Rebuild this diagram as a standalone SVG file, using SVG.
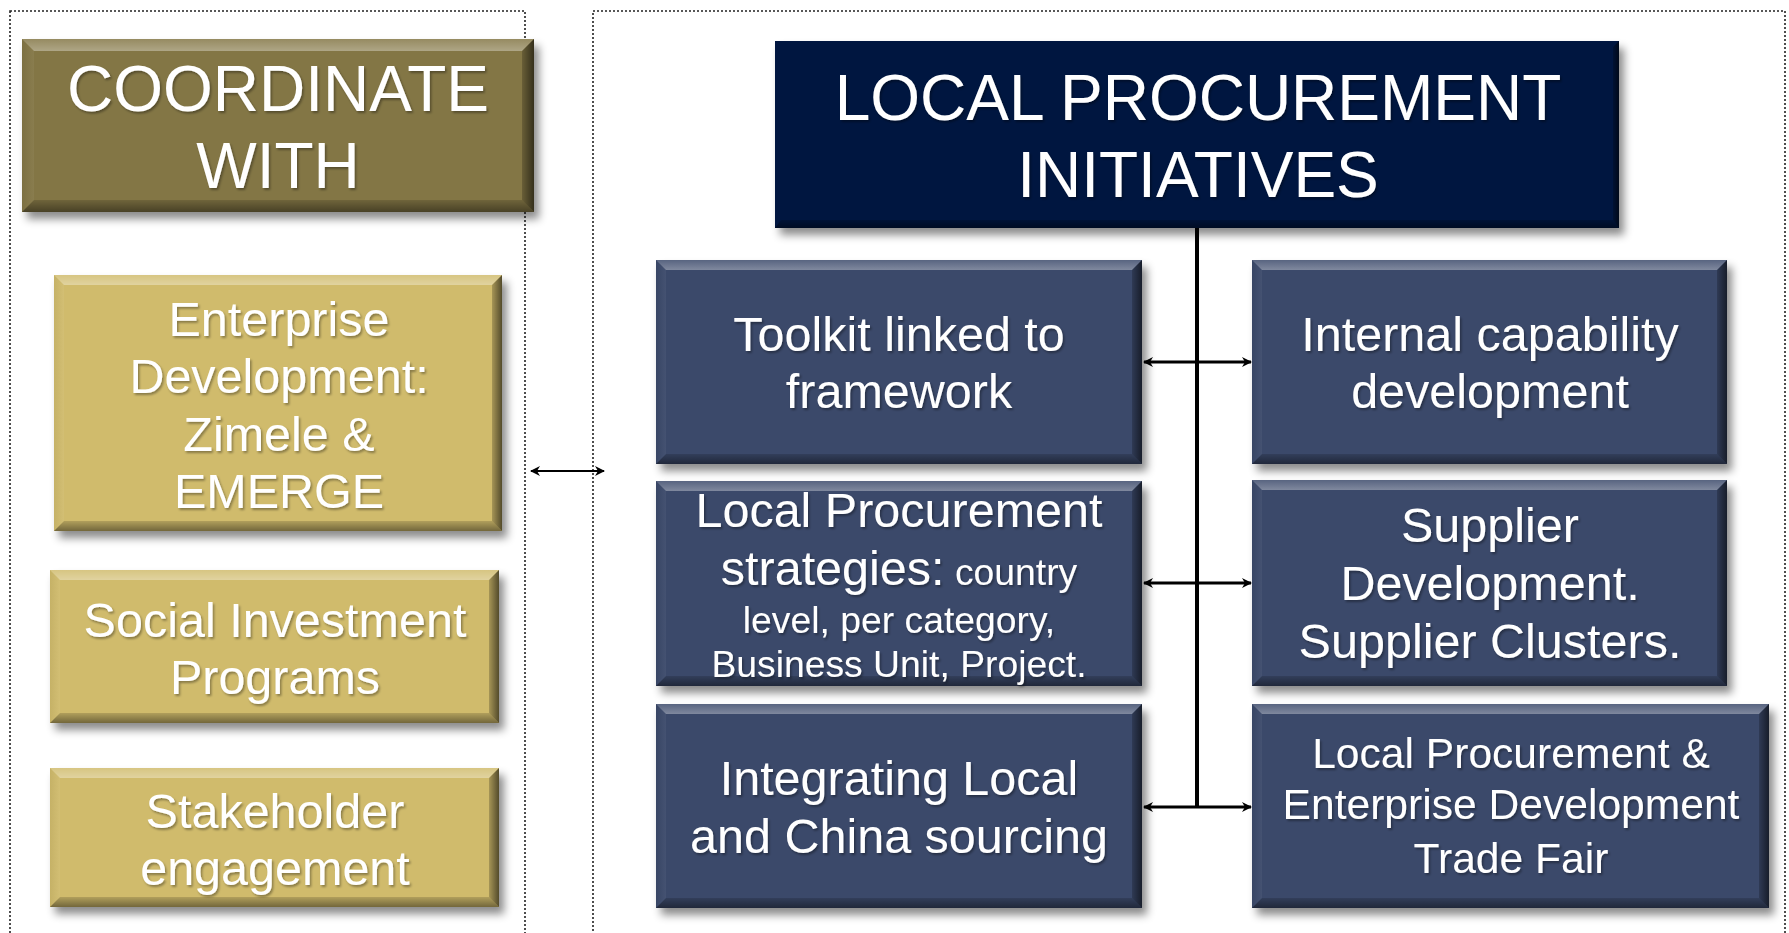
<svg xmlns="http://www.w3.org/2000/svg" width="1789" height="933" viewBox="0 0 1789 933">
<defs>
<filter id="sh" x="-10%" y="-10%" width="130%" height="140%"><feDropShadow dx="5" dy="7" stdDeviation="4" flood-color="#000" flood-opacity="0.45"/></filter>
<filter id="tsh" x="-5%" y="-5%" width="110%" height="120%"><feDropShadow dx="1.5" dy="2" stdDeviation="1" flood-color="#000" flood-opacity="0.35"/></filter>
<linearGradient id="gTop" x1="0" y1="0" x2="0" y2="1"><stop offset="0" stop-color="#fff" stop-opacity="0.15"/><stop offset="1" stop-color="#fff" stop-opacity="0.35"/></linearGradient>
<linearGradient id="gBot" x1="0" y1="0" x2="0" y2="1"><stop offset="0" stop-color="#000" stop-opacity="0.15"/><stop offset="1" stop-color="#000" stop-opacity="0.45"/></linearGradient>
<linearGradient id="gRight" x1="0" y1="0" x2="1" y2="0"><stop offset="0" stop-color="#000" stop-opacity="0.2"/><stop offset="1" stop-color="#000" stop-opacity="0.6"/></linearGradient>
<linearGradient id="gLeft" x1="0" y1="0" x2="1" y2="0"><stop offset="0" stop-color="#000" stop-opacity="0.05"/><stop offset="1" stop-color="#fff" stop-opacity="0.05"/></linearGradient>
<marker id="ah" viewBox="0 0 10 10" refX="9" refY="5" markerWidth="12" markerHeight="10" markerUnits="userSpaceOnUse" orient="auto-start-reverse"><path d="M0,0 L10,5 L0,10 L3,5 Z" fill="#000"/></marker>
</defs>
<style>
.frame{fill:none;stroke:#222;stroke-width:1.6;stroke-dasharray:2 2}
.olive{fill:#837645}
.gold{fill:#D0BB6C}
.navy{fill:#00143F}
.slate{fill:#3A4A6B}
.bt{fill:url(#gTop)}
.bb{fill:url(#gBot)}
.br{fill:url(#gRight)}
.bl{fill:url(#gLeft)}
text{font-family:"Liberation Sans",Arial,Helvetica,sans-serif;fill:#fff;text-anchor:middle}
.t65{font-size:64px}
.t47{font-size:48.5px}
.t42{font-size:42.6px}
.t37{font-size:37.3px}
.conn{stroke:#000;fill:none}
</style>
<rect class="frame" x="10" y="11" width="515" height="940"/>
<rect class="frame" x="593" y="11" width="1192" height="940"/>

<g id="coordinate-with">
<g filter="url(#sh)"><rect class="olive" x="22" y="39" width="512" height="173"/></g>
<polygon class="bt" points="22,39 534,39 522,51 34,51"/>
<polygon class="bb" points="22,212 534,212 522,200 34,200"/>
<polygon class="bl" points="22,39 34,51 34,200 22,212"/>
<polygon class="br" points="534,39 522,51 522,200 534,212"/>
<g filter="url(#tsh)"><text class="t65" x="278" y="111">COORDINATE</text><text class="t65" x="278" y="188">WITH</text></g>
</g>

<g id="enterprise-development">
<g filter="url(#sh)"><rect class="gold" x="54" y="275" width="448" height="256"/></g>
<polygon class="bt" points="54,275 502,275 492,285 64,285"/>
<polygon class="bb" points="54,531 502,531 492,521 64,521"/>
<polygon class="bl" points="54,275 64,285 64,521 54,531"/>
<polygon class="br" points="502,275 492,285 492,521 502,531"/>
<g filter="url(#tsh)"><text class="t47" x="279" y="336">Enterprise</text><text class="t47" x="279" y="393">Development:</text><text class="t47" x="279" y="451">Zimele &amp;</text><text class="t47" x="279" y="508">EMERGE</text></g>
</g>

<g id="social-investment">
<g filter="url(#sh)"><rect class="gold" x="50" y="570" width="449" height="153"/></g>
<polygon class="bt" points="50,570 499,570 489,580 60,580"/>
<polygon class="bb" points="50,723 499,723 489,713 60,713"/>
<polygon class="bl" points="50,570 60,580 60,713 50,723"/>
<polygon class="br" points="499,570 489,580 489,713 499,723"/>
<g filter="url(#tsh)"><text class="t47" x="275" y="637">Social Investment</text><text class="t47" x="275" y="694">Programs</text></g>
</g>

<g id="stakeholder-engagement">
<g filter="url(#sh)"><rect class="gold" x="50" y="768" width="449" height="139"/></g>
<polygon class="bt" points="50,768 499,768 489,778 60,778"/>
<polygon class="bb" points="50,907 499,907 489,897 60,897"/>
<polygon class="bl" points="50,768 60,778 60,897 50,907"/>
<polygon class="br" points="499,768 489,778 489,897 499,907"/>
<g filter="url(#tsh)"><text class="t47" x="275" y="828">Stakeholder</text><text class="t47" x="275" y="885">engagement</text></g>
</g>

<g id="connectors">
<line class="conn" x1="1197" y1="226" x2="1197" y2="808" stroke-width="4"/>
<line class="conn" x1="1144" y1="362" x2="1251" y2="362" stroke-width="3" marker-start="url(#ah)" marker-end="url(#ah)"/>
<line class="conn" x1="1144" y1="583" x2="1251" y2="583" stroke-width="3" marker-start="url(#ah)" marker-end="url(#ah)"/>
<line class="conn" x1="1144" y1="807" x2="1251" y2="807" stroke-width="3" marker-start="url(#ah)" marker-end="url(#ah)"/>
<line class="conn" x1="531" y1="471" x2="604" y2="471" stroke-width="2" marker-start="url(#ah)" marker-end="url(#ah)"/>
</g>

<g id="local-procurement-initiatives">
<g filter="url(#sh)"><rect class="navy" x="775" y="41" width="844" height="187"/></g>
<polygon class="bb" points="775,228 1619,228 1613,220 781,220"/>
<polygon class="br" points="1619,41 1613,47 1613,220 1619,228"/>
<g filter="url(#tsh)"><text class="t65" x="1198" y="120">LOCAL PROCUREMENT</text><text class="t65" x="1198" y="197">INITIATIVES</text></g>
</g>

<g id="toolkit">
<g filter="url(#sh)"><rect class="slate" x="656" y="260" width="486" height="204"/></g>
<polygon class="bt" points="656,260 1142,260 1132,270 666,270"/>
<polygon class="bb" points="656,464 1142,464 1132,454 666,454"/>
<polygon class="bl" points="656,260 666,270 666,454 656,464"/>
<polygon class="br" points="1142,260 1132,270 1132,454 1142,464"/>
<g filter="url(#tsh)"><text class="t47" x="899" y="351">Toolkit linked to</text><text class="t47" x="899" y="408">framework</text></g>
</g>

<g id="internal-capability">
<g filter="url(#sh)"><rect class="slate" x="1252" y="260" width="475" height="204"/></g>
<polygon class="bt" points="1252,260 1727,260 1717,270 1262,270"/>
<polygon class="bb" points="1252,464 1727,464 1717,454 1262,454"/>
<polygon class="bl" points="1252,260 1262,270 1262,454 1252,464"/>
<polygon class="br" points="1727,260 1717,270 1717,454 1727,464"/>
<g filter="url(#tsh)"><text class="t47" x="1490" y="351">Internal capability</text><text class="t47" x="1490" y="408">development</text></g>
</g>

<g id="local-procurement-strategies">
<g filter="url(#sh)"><rect class="slate" x="656" y="481" width="486" height="205"/></g>
<polygon class="bt" points="656,481 1142,481 1132,491 666,491"/>
<polygon class="bb" points="656,686 1142,686 1132,676 666,676"/>
<polygon class="bl" points="656,481 666,491 666,676 656,686"/>
<polygon class="br" points="1142,481 1132,491 1132,676 1142,686"/>
<g filter="url(#tsh)"><text class="t47" x="899" y="527">Local Procurement</text><text x="899" y="585"><tspan class="t47">strategies:</tspan><tspan class="t37"> country</tspan></text><text class="t37" x="899" y="633">level, per category,</text><text class="t37" x="899" y="677">Business Unit, Project.</text></g>
</g>

<g id="supplier-development">
<g filter="url(#sh)"><rect class="slate" x="1252" y="480" width="475" height="206"/></g>
<polygon class="bt" points="1252,480 1727,480 1717,490 1262,490"/>
<polygon class="bb" points="1252,686 1727,686 1717,676 1262,676"/>
<polygon class="bl" points="1252,480 1262,490 1262,676 1252,686"/>
<polygon class="br" points="1727,480 1717,490 1717,676 1727,686"/>
<g filter="url(#tsh)"><text class="t47" x="1490" y="542">Supplier</text><text class="t47" x="1490" y="600">Development.</text><text class="t47" x="1490" y="658">Supplier Clusters.</text></g>
</g>

<g id="integrating-sourcing">
<g filter="url(#sh)"><rect class="slate" x="656" y="704" width="486" height="204"/></g>
<polygon class="bt" points="656,704 1142,704 1132,714 666,714"/>
<polygon class="bb" points="656,908 1142,908 1132,898 666,898"/>
<polygon class="bl" points="656,704 666,714 666,898 656,908"/>
<polygon class="br" points="1142,704 1132,714 1132,898 1142,908"/>
<g filter="url(#tsh)"><text class="t47" x="899" y="795">Integrating Local</text><text class="t47" x="899" y="853">and China sourcing</text></g>
</g>

<g id="trade-fair">
<g filter="url(#sh)"><rect class="slate" x="1252" y="704" width="517" height="204"/></g>
<polygon class="bt" points="1252,704 1769,704 1759,714 1262,714"/>
<polygon class="bb" points="1252,908 1769,908 1759,898 1262,898"/>
<polygon class="bl" points="1252,704 1262,714 1262,898 1252,908"/>
<polygon class="br" points="1769,704 1759,714 1759,898 1769,908"/>
<g filter="url(#tsh)"><text class="t42" x="1511" y="768">Local Procurement &amp;</text><text class="t42" x="1511" y="819">Enterprise Development</text><text class="t42" x="1511" y="873">Trade Fair</text></g>
</g>
</svg>
